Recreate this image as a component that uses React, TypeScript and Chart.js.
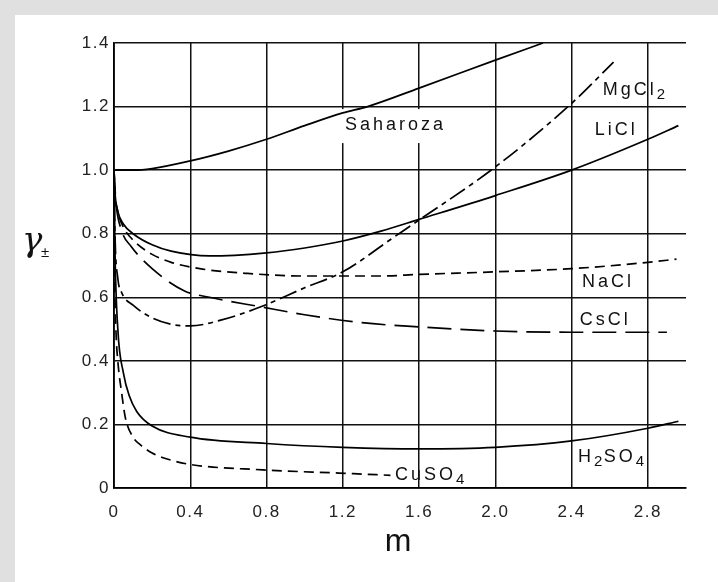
import React, { useEffect, useRef } from "react";
import { Chart, registerables } from "chart.js";

Chart.register(...registerables);

// ---- data (m, gamma±) ----
const sucroseX = [0, 0.1, 0.2, 0.4, 0.6, 0.8, 1.0, 1.2, 1.33, 1.6, 2.0, 2.25];
const sucroseY = [1.0, 1.0, 1.005, 1.029, 1.06, 1.097, 1.14, 1.18, 1.2, 1.258, 1.346, 1.4];

const liclX = [0, 0.005, 0.02, 0.05, 0.1, 0.2, 0.3, 0.5, 0.8, 1.0, 1.2, 1.4, 1.6, 2.0, 2.4, 2.8, 2.96];
const liclY = [1.0, 0.93, 0.87, 0.83, 0.8, 0.765, 0.745, 0.73, 0.74, 0.755, 0.777, 0.808, 0.845, 0.92, 1.0, 1.097, 1.14];

const naclX = [0, 0.005, 0.02, 0.05, 0.1, 0.2, 0.3, 0.45, 0.7, 1.0, 1.4, 1.6, 2.0, 2.4, 2.8, 2.95];
const naclY = [1.0, 0.93, 0.87, 0.82, 0.78, 0.735, 0.71, 0.69, 0.675, 0.667, 0.667, 0.672, 0.68, 0.69, 0.71, 0.72];

const csclX = [0, 0.01, 0.04, 0.09, 0.2, 0.37, 0.5, 0.77, 1.0, 1.3, 1.6, 2.0, 2.4, 2.9];
const csclY = [1.0, 0.9, 0.81, 0.76, 0.69, 0.62, 0.6, 0.57, 0.545, 0.52, 0.507, 0.494, 0.49, 0.49];

const mgcl2X = [0, 0.005, 0.02, 0.04, 0.1, 0.2, 0.3, 0.4, 0.56, 0.77, 1.0, 1.2, 1.47, 1.6, 2.0, 2.4, 2.62];
const mgcl2Y = [1.0, 0.8, 0.66, 0.615, 0.575, 0.535, 0.515, 0.51, 0.528, 0.57, 0.63, 0.68, 0.79, 0.843, 1.01, 1.21, 1.34];

const h2so4X = [0, 0.005, 0.02, 0.05, 0.08, 0.12, 0.2, 0.4, 0.8, 1.2, 1.6, 2.0, 2.4, 2.8, 2.96];
const h2so4Y = [1.0, 0.75, 0.5, 0.36, 0.29, 0.24, 0.195, 0.16, 0.14, 0.128, 0.123, 0.128, 0.148, 0.188, 0.21];

const cuso4X = [0, 0.003, 0.01, 0.02, 0.04, 0.06, 0.1, 0.14, 0.2, 0.27, 0.39, 0.78, 1.18, 1.45];
const cuso4Y = [1.0, 0.7, 0.5, 0.4, 0.3, 0.22, 0.16, 0.135, 0.11, 0.093, 0.075, 0.057, 0.047, 0.04];

// ---- axes ----
const xTicksMin = 0;
const xTicksMax = 3.0;
const xTickStep = 0.4;
const yTicksMin = 0;
const yTicksMax = 1.4;
const yTickStep = 0.2;

// ---- curve labels (text, with "_" marking subscripts) ----
const labelTexts = ["Saharoza", "MgCl_2", "LiCl", "NaCl", "CsCl", "H_2SO_4", "CuSO_4"];
const labelX = [1.211, 2.564, 2.521, 2.454, 2.443, 2.433, 1.474];
const labelY = [1.126, 1.236, 1.11, 0.632, 0.513, 0.082, 0.025];

const FONT = "'Liberation Sans', Arial, Helvetica, sans-serif";

function pts(xs: number[], ys: number[]) {
  return xs.map((x, i) => ({ x, y: ys[i] }));
}

function parseLabel(t: string): { s: string; sub: boolean }[] {
  const parts: { s: string; sub: boolean }[] = [];
  let i = 0;
  let cur = "";
  while (i < t.length) {
    if (t[i] === "_") {
      if (cur) parts.push({ s: cur, sub: false });
      cur = "";
      parts.push({ s: t[i + 1], sub: true });
      i += 2;
    } else {
      cur += t[i];
      i++;
    }
  }
  if (cur) parts.push({ s: cur, sub: false });
  return parts;
}

function setLabelFont(ctx: CanvasRenderingContext2D, sub: boolean) {
  ctx.font = sub ? `15px ${FONT}` : `18px ${FONT}`;
  (ctx as any).letterSpacing = sub ? "1.5px" : "3px";
}

function measureLabel(ctx: CanvasRenderingContext2D, t: string) {
  let w = 0;
  for (const p of parseLabel(t)) {
    setLabelFont(ctx, p.sub);
    w += ctx.measureText(p.s).width;
  }
  return w;
}

const annotPlugin = {
  id: "annot",
  beforeDraw(chart: any) {
    (chart.ctx as any).letterSpacing = "1.5px";
  },
  beforeDatasetsDraw(chart: any) {
    const { ctx, scales } = chart;
    ctx.save();
    // white gap behind "Saharoza" (grid line is interrupted there)
    const px = scales.x.getPixelForValue(labelX[0]);
    const py = scales.y.getPixelForValue(labelY[0]);
    const w = measureLabel(ctx, labelTexts[0]);
    ctx.fillStyle = "#ffffff";
    ctx.fillRect(px - 6, py - 21, w + 10, 34);
    ctx.restore();
  },
  afterDatasetsDraw(chart: any) {
    const { ctx, scales } = chart;
    ctx.save();
    ctx.fillStyle = "#111";
    ctx.textAlign = "left";
    ctx.textBaseline = "alphabetic";
    labelTexts.forEach((t, i) => {
      let px = scales.x.getPixelForValue(labelX[i]);
      const py = scales.y.getPixelForValue(labelY[i]);
      for (const p of parseLabel(t)) {
        setLabelFont(ctx, p.sub);
        ctx.fillText(p.s, px, py + (p.sub ? 4 : 0));
        px += ctx.measureText(p.s).width;
      }
    });
    // axis titles
    (ctx as any).letterSpacing = "0px";
    ctx.font = `italic 34px 'DejaVu Serif', serif`;
    ctx.fillText("γ", 7, 236);
    ctx.font = `15px ${FONT}`;
    ctx.fillText("±", 26, 242);
    ctx.font = `32px ${FONT}`;
    ctx.textAlign = "center";
    const cx = (chart.chartArea.left + chart.chartArea.right) / 2;
    ctx.fillText("m", cx - 2, 536);
    ctx.restore();
  },
  afterDraw(chart: any) {
    (chart.ctx as any).letterSpacing = "0px";
  },
};

function fmt(v: number) {
  return Math.abs(v) < 1e-9 ? "0" : v.toFixed(1);
}

export default function App() {
  const ref = useRef<HTMLCanvasElement>(null);

  useEffect(() => {
    if (!ref.current) return;
    const common = {
      borderColor: "#000",
      borderWidth: 1.7,
      pointRadius: 0,
      fill: false,
      cubicInterpolationMode: "monotone" as const,
    };
    const chart = new Chart(ref.current, {
      type: "line",
      data: {
        datasets: [
          { ...common, label: "Saharoza", data: pts(sucroseX, sucroseY) },
          { ...common, label: "LiCl", data: pts(liclX, liclY) },
          { ...common, label: "NaCl", data: pts(naclX, naclY), borderDash: [10, 6] },
          { ...common, label: "CsCl", data: pts(csclX, csclY), borderDash: [24, 9] },
          { ...common, label: "MgCl2", data: pts(mgcl2X, mgcl2Y), borderDash: [18, 5, 5, 5] },
          { ...common, label: "H2SO4", data: pts(h2so4X, h2so4Y) },
          { ...common, label: "CuSO4", data: pts(cuso4X, cuso4Y), borderDash: [10, 6] },
        ],
      },
      options: {
        responsive: false,
        animation: false,
        events: [],
        layout: { padding: { left: 0, top: 28, right: 32, bottom: 0 } },
        plugins: {
          legend: { display: false },
          tooltip: { enabled: false },
          title: { display: false },
        },
        scales: {
          x: {
            type: "linear",
            min: xTicksMin,
            max: xTicksMax,
            afterFit: (s: any) => {
              s.height = 94;
            },
            border: { display: true, color: "#000", width: 1.8 },
            grid: { color: "#111", lineWidth: 1.5, drawTicks: false },
            ticks: {
              stepSize: xTickStep,
              includeBounds: false,
              padding: 14,
              color: "#222",
              font: { family: FONT, size: 17 },
              callback: (v: any) => fmt(Number(v)),
              maxRotation: 0,
              autoSkip: false,
            },
          },
          y: {
            type: "linear",
            min: yTicksMin,
            max: yTicksMax,
            afterFit: (s: any) => {
              s.width = 99;
            },
            border: { display: true, color: "#000", width: 1.8 },
            grid: { color: "#111", lineWidth: 1.5, drawTicks: false },
            ticks: {
              stepSize: yTickStep,
              padding: 4,
              color: "#222",
              font: { family: FONT, size: 17 },
              callback: (v: any) => fmt(Number(v)),
              autoSkip: false,
            },
          },
        },
      },
      plugins: [annotPlugin],
    });
    return () => chart.destroy();
  }, []);

  return (
    <div
      style={{
        position: "fixed",
        left: 0,
        top: 0,
        width: 718,
        height: 582,
        background: "#e0e0e0",
        overflow: "hidden",
      }}
    >
      <div
        style={{
          position: "absolute",
          left: 15,
          top: 15,
          width: 703,
          height: 567,
          background: "#ffffff",
        }}
      >
        <canvas ref={ref} width={703} height={567} style={{ display: "block", width: 703, height: 567 }} />
      </div>
    </div>
  );
}
